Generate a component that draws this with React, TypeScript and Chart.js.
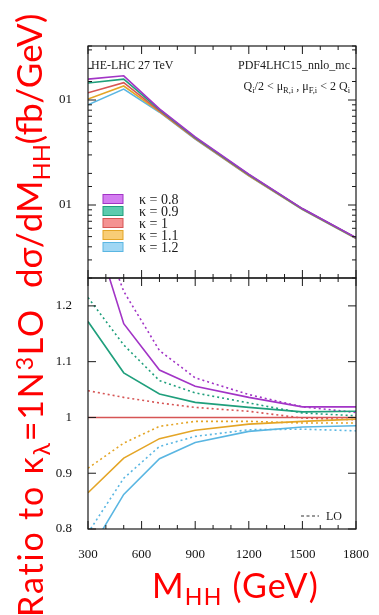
import React, { useEffect, useRef } from 'react';
import { Chart, registerables } from 'chart.js';

Chart.register(...registerables);

// ---------- data ----------
const MHH = [300, 500, 700, 900, 1200, 1500, 1800];
const KAPPA_LABELS = ['\u03ba = 0.8', '\u03ba = 0.9', '\u03ba = 1', '\u03ba = 1.1', '\u03ba = 1.2'];

// dσ/dM_HH (fb/GeV), upper panel
const XS_K08 = [0.158, 0.170, 0.0825, 0.0445, 0.0197, 0.00925, 0.0049];
const XS_K09 = [0.145, 0.158, 0.081, 0.0438, 0.0195, 0.0092, 0.00487];
const XS_K10 = [0.117, 0.146, 0.0787, 0.0432, 0.0193, 0.00916, 0.00485];
const XS_K11 = [0.102, 0.136, 0.0775, 0.0428, 0.0191, 0.0091, 0.00483];
const XS_K12 = [0.090, 0.127, 0.0765, 0.0424, 0.0190, 0.00905, 0.0048];

// ratio panel, NLO (solid)
const R_K08 = [1.373, 1.168, 1.085, 1.056, 1.036, 1.019, 1.019];
const R_K09 = [1.172, 1.080, 1.042, 1.027, 1.018, 1.010, 1.011];
const R_K10 = [1, 1, 1, 1, 1, 1, 1];
const R_K11 = [0.865, 0.927, 0.962, 0.977, 0.988, 0.993, 0.997];
const R_K12 = [0.755, 0.862, 0.926, 0.955, 0.975, 0.983, 0.985];

// ratio panel, LO (dotted)
const LO_K08 = [1.40, 1.226, 1.12, 1.071, 1.041, 1.019, 1.009];
const LO_K09 = [1.215, 1.13, 1.066, 1.044, 1.026, 1.008, 1.003];
const LO_K10 = [1.048, 1.036, 1.026, 1.018, 1.011, 0.999, 0.996];
const LO_K11 = [0.909, 0.954, 0.984, 0.993, 0.993, 0.990, 0.990];
const LO_K12 = [0.793, 0.891, 0.948, 0.966, 0.978, 0.979, 0.976];

const X_LABELS = [300, 600, 900, 1200, 1500, 1800];
const TOP_DECADE_LABELS = [0.1, 0.01];
const TOP_DECADE_TEXT = '01';
const RATIO_LABELS = [0.8, 0.9, 1, 1.1, 1.2];

// ---------- styles ----------
const LINE_COLORS = ['#a234c6', '#1f9f7c', '#d65555', '#e4a526', '#5ab6e2'];
const FILL_COLORS = ['#cc66ee', '#3fc2a0', '#f27f7f', '#f7c45e', '#8fd0f2'];
const TEXT_FONT = '"Liberation Serif", "DejaVu Serif", serif';

const xsSeries = [XS_K08, XS_K09, XS_K10, XS_K11, XS_K12];
const ratioSeries = [R_K08, R_K09, R_K10, R_K11, R_K12];
const loSeries = [LO_K08, LO_K09, LO_K10, LO_K11, LO_K12];

const isDecade = (v: number) => {
  const l = Math.log10(v);
  return Math.abs(l - Math.round(l)) < 1e-6;
};

const decorPlugin = {
  id: 'decor',
  beforeDatasetDraw(chart: any, args: any) {
    const ys = chart.scales[args.meta.yAxisID];
    const { ctx, chartArea } = chart;
    ctx.save();
    ctx.beginPath();
    ctx.rect(chartArea.left, ys.top, chartArea.right - chartArea.left, ys.bottom - ys.top);
    ctx.clip();
  },
  afterDatasetDraw(chart: any) {
    chart.ctx.restore();
  },
  afterDraw(chart: any) {
    const { ctx, chartArea } = chart;
    const xs = chart.scales.x;
    const yt = chart.scales.yTop;
    const yb = chart.scales.yBot;
    const L = chartArea.left;
    const R = chartArea.right;
    ctx.save();
    ctx.strokeStyle = '#1a1a1a';
    ctx.lineWidth = 1.2;
    ctx.strokeRect(L, yt.top, R - L, yt.bottom - yt.top);
    ctx.strokeRect(L, yb.top, R - L, yb.bottom - yb.top);

    ctx.lineWidth = 1;
    ctx.beginPath();
    xs.ticks.forEach((t: any) => {
      const px = xs.getPixelForValue(t.value);
      const len = X_LABELS.includes(t.value) ? 8 : 4;
      ctx.moveTo(px, yt.top); ctx.lineTo(px, yt.top + len);
      ctx.moveTo(px, yt.bottom - len); ctx.lineTo(px, yt.bottom + len);
      ctx.moveTo(px, yb.bottom); ctx.lineTo(px, yb.bottom - len);
    });
    yt.ticks.forEach((t: any) => {
      const py = yt.getPixelForValue(t.value);
      if (py < yt.top || py > yt.bottom) return;
      const len = isDecade(t.value) ? 8 : 4;
      ctx.moveTo(L, py); ctx.lineTo(L + len, py);
      ctx.moveTo(R, py); ctx.lineTo(R - len, py);
    });
    yb.ticks.forEach((t: any) => {
      const py = yb.getPixelForValue(t.value);
      const len = 8;
      ctx.moveTo(L, py); ctx.lineTo(L + len, py);
      ctx.moveTo(R, py); ctx.lineTo(R - len, py);
    });
    ctx.stroke();

    // annotations
    ctx.fillStyle = '#1a1a1a';
    ctx.textBaseline = 'alphabetic';
    ctx.font = `12px ${TEXT_FONT}`;
    ctx.textAlign = 'left';
    ctx.fillText('HE-LHC 27 TeV', L + 3, yt.top + 23);
    ctx.textAlign = 'right';
    ctx.fillText('PDF4LHC15_nnlo_mc', R - 6, yt.top + 23);

    // Q_i/2 < mu_R,i , mu_F,i < 2 Q_i
    const parts: [string, boolean][] = [
      ['Q', false], ['i', true], ['/2 < \u03bc', false], ['R,i', true], [' , \u03bc', false],
      ['F,i', true], [' < 2 Q', false], ['i', true],
    ];
    const mainFont = `12px ${TEXT_FONT}`;
    const subFont = `8.5px ${TEXT_FONT}`;
    let total = 0;
    parts.forEach(([s, sub]) => { ctx.font = sub ? subFont : mainFont; total += ctx.measureText(s).width; });
    let cx = R - 6 - total;
    const by = yt.top + 44;
    ctx.textAlign = 'left';
    parts.forEach(([s, sub]) => {
      ctx.font = sub ? subFont : mainFont;
      ctx.fillText(s, cx, sub ? by + 3 : by);
      cx += ctx.measureText(s).width;
    });

    // kappa legend
    ctx.font = `14px ${TEXT_FONT}`;
    ctx.textBaseline = 'middle';
    KAPPA_LABELS.forEach((lab, i) => {
      const cy = yt.top + 153 + i * 12;
      ctx.globalAlpha = 0.85;
      ctx.fillStyle = FILL_COLORS[i];
      ctx.fillRect(L + 15, cy - 4.5, 20, 9);
      ctx.globalAlpha = 1;
      ctx.strokeStyle = LINE_COLORS[i];
      ctx.lineWidth = 1;
      ctx.strokeRect(L + 15, cy - 4.5, 20, 9);
      ctx.fillStyle = '#1a1a1a';
      ctx.fillText(lab, L + 51, cy + 1);
    });

    // LO legend
    ctx.strokeStyle = '#333';
    ctx.lineWidth = 1.2;
    ctx.setLineDash([3, 2.5]);
    ctx.beginPath();
    ctx.moveTo(R - 55, yb.bottom - 13);
    ctx.lineTo(R - 37, yb.bottom - 13);
    ctx.stroke();
    ctx.setLineDash([]);
    ctx.font = `12px ${TEXT_FONT}`;
    ctx.fillStyle = '#1a1a1a';
    ctx.textAlign = 'left';
    ctx.fillText('LO', R - 30, yb.bottom - 12);
    ctx.restore();
  },
};

const subStyle: React.CSSProperties = { fontSize: '0.68em', position: 'relative', top: '0.32em' };
const supStyle: React.CSSProperties = { fontSize: '0.68em', position: 'relative', top: '-0.45em' };
const titleBase: React.CSSProperties = {
  position: 'absolute',
  fontFamily: 'Lato, "Open Sans", sans-serif',
  fontSize: 34,
  lineHeight: '34px',
  color: '#ff0000',
  whiteSpace: 'nowrap',
};

export default function App() {
  const canvasRef = useRef<HTMLCanvasElement | null>(null);

  useEffect(() => {
    const canvas = canvasRef.current;
    if (!canvas) return;
    const datasets: any[] = [];
    xsSeries.forEach((s, i) => {
      datasets.push({
        data: s, yAxisID: 'yTop', borderColor: LINE_COLORS[i], borderWidth: 1.6,
        pointRadius: 0, tension: 0, fill: false,
      });
    });
    ratioSeries.forEach((s, i) => {
      datasets.push({
        data: s, yAxisID: 'yBot', borderColor: LINE_COLORS[i], borderWidth: 1.6,
        pointRadius: 0, tension: 0, fill: false,
      });
    });
    loSeries.forEach((s, i) => {
      datasets.push({
        data: s, yAxisID: 'yBot', borderColor: LINE_COLORS[i], borderWidth: 1.6,
        borderDash: [2, 3], pointRadius: 0, tension: 0, fill: false,
      });
    });
    const data = {
      labels: MHH,
      datasets: datasets.map((d) => ({ ...d, data: d.data.map((v: number, j: number) => ({ x: MHH[j], y: v })) })),
    };

    const tickFont = { family: TEXT_FONT, size: 13 };
    const chart = new Chart(canvas, {
      type: 'line',
      data,
      options: {
        responsive: false,
        animation: false,
        devicePixelRatio: 1,
        layout: { padding: { top: 46, right: 16, left: 0, bottom: 0 } },
        plugins: { legend: { display: false }, tooltip: { enabled: false } },
        scales: {
          x: {
            type: 'linear', position: 'bottom', min: 300, max: 1800,
            grid: { display: false }, border: { display: false },
            ticks: {
              stepSize: 100, autoSkip: false, maxRotation: 0, color: '#111', font: tickFont, padding: 10,
              callback: (v: any) => (X_LABELS.includes(v) ? String(v) : ''),
            },
            afterFit: (s: any) => { s.height = 86; },
          },
          yBot: {
            type: 'linear', position: 'left', stack: 'panels', stackWeight: 251,
            min: 0.8, max: 1.25,
            grid: { display: false }, border: { display: false },
            ticks: {
              stepSize: 0.1, includeBounds: false, autoSkip: false, color: '#111', font: tickFont, padding: 8,
              callback: (v: any) => {
                const m = RATIO_LABELS.find((r) => Math.abs(r - v) < 1e-6);
                return m === undefined ? '' : String(m);
              },
            },
            afterFit: (s: any) => { s.width = 88; },
          },
          yTop: {
            type: 'logarithmic', position: 'left', stack: 'panels', stackWeight: 232,
            min: 0.002018, max: 0.3268,
            grid: { display: false }, border: { display: false },
            ticks: {
              autoSkip: false, color: '#111', font: tickFont, padding: 8,
              callback: (v: any) => (TOP_DECADE_LABELS.some((d) => Math.abs(d - v) < 1e-9) ? TOP_DECADE_TEXT : ''),
            },
            afterFit: (s: any) => { s.width = 88; },
          },
        },
      } as any,
      plugins: [decorPlugin],
    });
    return () => chart.destroy();
  }, []);

  return (
    <div style={{ position: 'absolute', left: 0, top: 0, width: 379, height: 615, overflow: 'hidden', background: '#fff' }}>
      <canvas ref={canvasRef} width={379} height={615} style={{ position: 'absolute', left: 0, top: 0, width: 379, height: 615 }} />
      <div style={{ ...titleBase, fontSize: 35, lineHeight: '35px', left: 11, top: 288, transform: 'rotate(-90deg)', transformOrigin: '0 0' }}>
        d&sigma;/dM<span style={subStyle}>HH</span>(fb/GeV)
      </div>
      <div style={{ ...titleBase, letterSpacing: '1.8px', left: 13, top: 640, width: 332, textAlign: 'right', transform: 'rotate(-90deg)', transformOrigin: '0 0' }}>
        Ratio to &kappa;<span style={subStyle}>&lambda;</span>=1N<span style={supStyle}>3</span>LO
      </div>
      <div style={{ ...titleBase, letterSpacing: '1.2px', left: 152, top: 568 }}>
        M<span style={subStyle}>HH</span> (GeV)
      </div>
    </div>
  );
}
